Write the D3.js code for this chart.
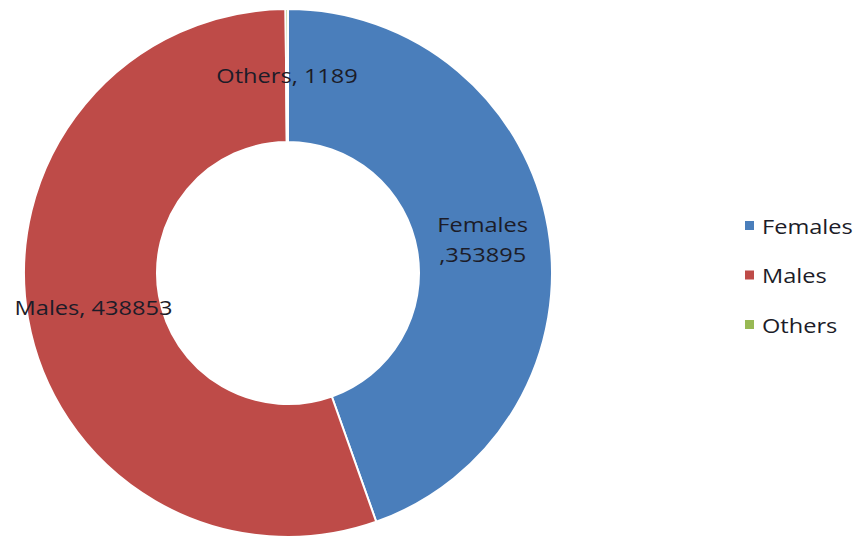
<!DOCTYPE html>
<html><head><meta charset="utf-8">
<script src="https://cdn.jsdelivr.net/npm/d3@7"></script>
<style>html,body{margin:0;padding:0;background:#fff;}svg{display:block;}</style>
</head><body>
<svg id="chart" width="859" height="543"></svg>
<script>
const categories = ["Females", "Males", "Others"];
const values = [353895, 438853, 1189];
const colors = ["#4A7EBB", "#BE4B48", "#98B954"];

const svg = d3.select("#chart");
const cx = 288, cy = 273, outerR = 264, innerR = 131;
const FONT = "'Open Sans', sans-serif";
const SX = 1.18;

const data = categories.map((c, i) => ({cat: c, value: values[i]}));
const pie = d3.pie().value(d => d.value).sort(null);
const arcs = pie(data);
const arc = d3.arc().innerRadius(innerR).outerRadius(outerR);
const labelArc = d3.arc().innerRadius(197.5).outerRadius(197.5);
const color = d3.scaleOrdinal().domain(categories).range(colors);

const g = svg.append("g").attr("transform", `translate(${cx},${cy})`);
g.selectAll("path.slice").data(arcs).enter().append("path")
  .attr("class", "slice")
  .attr("d", arc)
  .attr("fill", d => color(d.data.cat))
  .attr("stroke", "#ffffff")
  .attr("stroke-width", 2);

function addText(parent, x, y, lines) {
  const t = parent.append("g").attr("transform", `translate(${x},${y}) scale(${SX},1)`);
  lines.forEach((ln, i) => {
    t.append("text")
      .attr("x", 0).attr("y", (i - (lines.length - 1) / 2) * 30)
      .attr("text-anchor", "middle")
      .attr("dominant-baseline", "central")
      .attr("font-family", FONT).attr("font-size", 20)
      .attr("fill", "#1c1c28")
      .text(ln);
  });
}

arcs.forEach(d => {
  const [x, y] = labelArc.centroid(d);
  const lines = d.data.cat === "Females"
    ? [d.data.cat, "," + d.data.value]
    : [d.data.cat + ", " + d.data.value];
  addText(g, x, y, lines);
});

const legend = svg.append("g");
const ly = d3.scalePoint().domain(categories).range([226, 325]);
categories.forEach(c => {
  legend.append("rect")
    .attr("x", 745).attr("y", ly(c) - 5).attr("width", 9).attr("height", 9)
    .attr("fill", color(c));
  const t = legend.append("g").attr("transform", `translate(762,${ly(c)}) scale(${SX},1)`);
  t.append("text").attr("x", 0).attr("y", 0)
    .attr("dominant-baseline", "central")
    .attr("font-family", FONT).attr("font-size", 20)
    .attr("fill", "#1c1c28").text(c);
});
</script>
</body></html>
